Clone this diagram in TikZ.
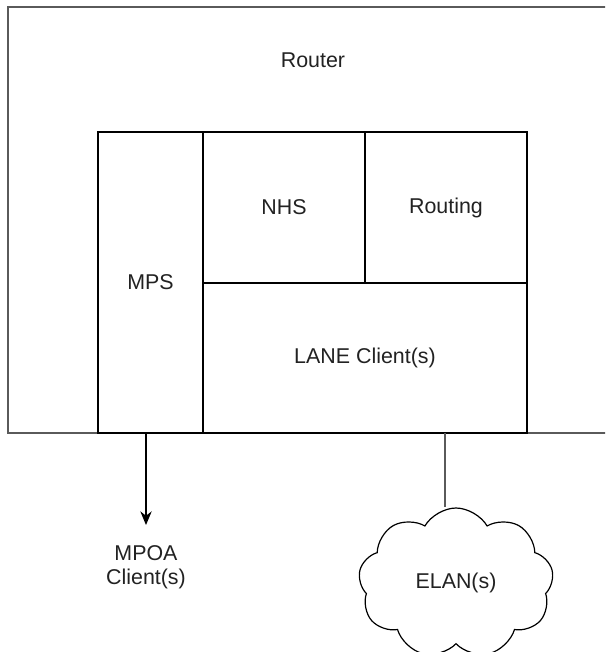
\documentclass[tikz,border=0pt]{standalone}
\usepackage{fontspec}
\setmainfont{Liberation Sans}
\usepackage{tikz}
\usetikzlibrary{arrows.meta,positioning,shapes.symbols}
\definecolor{ink}{RGB}{34,34,34}
\definecolor{rim}{RGB}{90,90,90}
\tikzset{
  part/.style={draw, line width=0.6pt, inner sep=0pt, outer sep=0pt, anchor=north west, minimum width=#1, text=ink},
  lab/.style={text=ink, inner sep=0pt},
  link/.style={-{Stealth[length=2.4mm,width=2mm]}, line width=0.6pt},
  tie/.style={line width=0.6pt, draw=rim},
}

\begin{document}
\begin{tikzpicture}[x=0.5pt, y=-0.5pt, font=\fontsize{10.7}{12}\selectfont]
  \clip (0,0) rectangle (605,652);
  \fill[white] (0,0) rectangle (605,652);
  % outer box is cut off on the right
  \node[part=316pt, minimum height=213pt, draw=rim] (router) at (8,7) {};
  \node[lab] (routername) at (313,60) {Router};
  \node[part=52.5pt, minimum height=150.5pt] (mps) at (98,132) {MPS};
  \node[part=81pt, minimum height=75.5pt] (nhs) at (203,132) {NHS};
  \node[part=81pt, minimum height=75.5pt] (routing) at (365,132) {Routing};
  \node[part=162pt, minimum height=75pt] (lane) at (203,283) {LANE Client(s)};
  \node[lab, align=center, anchor=north, inner ysep=10pt] (mpoa) at (146,525) {MPOA\\ Client(s)};
  \node[cloud, draw, line width=0.6pt, cloud puffs=9, cloud puff arc=120, aspect=1.3,
        minimum width=97.5pt, minimum height=75pt, inner sep=0pt, text=ink] (elan) at (456,583) {ELAN(s)};
  \coordinate (tap) at (445,433);
  \draw[link] (mpoa.north |- mps.south) -- (mpoa.north);
  \draw[tie] (tap) -- (tap |- elan.north);
\end{tikzpicture}
\end{document}
